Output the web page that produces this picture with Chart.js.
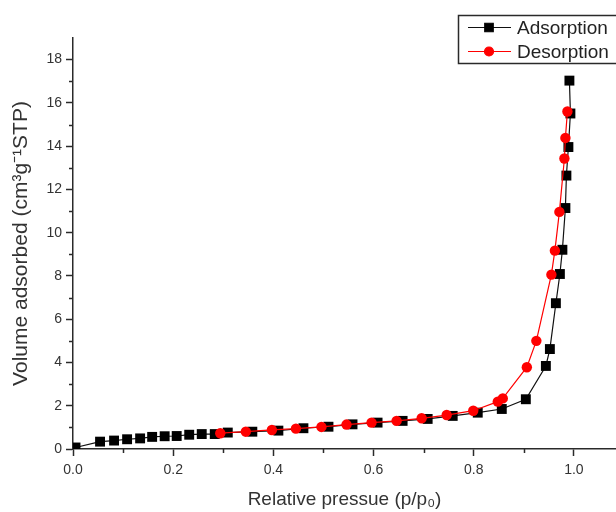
<!DOCTYPE html>
<html>
<head>
<meta charset="utf-8">
<script src="https://cdn.jsdelivr.net/npm/chart.js@4/dist/chart.umd.min.js"></script>
<style>
  html, body { margin: 0; padding: 0; background: #fff; }
  #wrap { width: 616px; height: 512px; position: relative; }
</style>
</head>
<body>
<div id="wrap"><canvas id="c" width="616" height="512"></canvas></div>
<script>
// ---- Data ----
const adsorptionX = [0.005, 0.054, 0.082, 0.108, 0.134, 0.158, 0.183, 0.207, 0.232, 0.257, 0.283, 0.309, 0.358, 0.41, 0.46, 0.51, 0.558, 0.608, 0.658, 0.708, 0.758, 0.808, 0.856, 0.904, 0.944, 0.952, 0.964, 0.972, 0.977, 0.983, 0.985, 0.989, 0.993, 0.991];
const adsorptionY = [0.07, 0.34, 0.39, 0.45, 0.49, 0.56, 0.59, 0.60, 0.66, 0.69, 0.69, 0.76, 0.80, 0.85, 0.96, 1.03, 1.14, 1.22, 1.30, 1.39, 1.53, 1.68, 1.85, 2.30, 3.84, 4.62, 6.74, 8.09, 9.21, 11.14, 12.64, 13.96, 15.51, 17.03];
const desorptionX = [0.987, 0.983, 0.981, 0.971, 0.962, 0.955, 0.925, 0.906, 0.858, 0.848, 0.799, 0.746, 0.696, 0.646, 0.596, 0.546, 0.496, 0.445, 0.397, 0.345, 0.294];
const desorptionY = [15.60, 14.38, 13.43, 10.96, 9.17, 8.06, 5.00, 3.78, 2.34, 2.19, 1.77, 1.57, 1.42, 1.30, 1.22, 1.13, 1.02, 0.94, 0.88, 0.80, 0.73];
const seriesLabels = ['Adsorption', 'Desorption'];
const xMajorTicks = [0, 0.2, 0.4, 0.6, 0.8, 1.0];
const xMinorTicks = [0.1, 0.3, 0.5, 0.7, 0.9];
const yMajorTicks = [0, 2, 4, 6, 8, 10, 12, 14, 16, 18];
const yMinorTicks = [1, 3, 5, 7, 9, 11, 13, 15, 17];
const xTitle = 'Relative pressue (p/p\u2080)';
const yTitle = 'Volume adsorbed (cm\u00B3g\u207B\u00B9STP)';

const toPoints = (xs, ys) => xs.map((x, i) => ({ x: x, y: ys[i] }));

const AXIS = '#2a2a2a';
const TEXT = '#333333';
const FONT = '"Liberation Sans", Arial, sans-serif';

const minorTicksPlugin = {
  id: 'minorTicks',
  afterDraw(chart) {
    const ctx = chart.ctx;
    const xs = chart.scales.x, ys = chart.scales.y;
    ctx.save();
    ctx.strokeStyle = AXIS;
    ctx.lineWidth = 1.5;
    ctx.beginPath();
    xMinorTicks.forEach(v => {
      const px = Math.round(xs.getPixelForValue(v)) + 0.5;
      ctx.moveTo(px, ys.bottom);
      ctx.lineTo(px, ys.bottom + 4);
    });
    yMinorTicks.forEach(v => {
      const py = Math.round(ys.getPixelForValue(v)) + 0.5;
      ctx.moveTo(xs.left, py);
      ctx.lineTo(xs.left - 4, py);
    });
    ctx.stroke();
    ctx.restore();
  }
};

const boxLegendPlugin = {
  id: 'boxLegend',
  afterDraw(chart) {
    const ctx = chart.ctx;
    ctx.save();
    ctx.strokeStyle = AXIS;
    ctx.lineWidth = 1.5;
    ctx.strokeRect(458.5, 15.5, 200, 48);
    const rows = [27.5, 51.5];
    chart.data.datasets.forEach((ds, i) => {
      const y = rows[i];
      ctx.strokeStyle = ds.borderColor;
      ctx.lineWidth = 1.2;
      ctx.beginPath();
      ctx.moveTo(468, y);
      ctx.lineTo(511, y);
      ctx.stroke();
      ctx.fillStyle = ds.pointBackgroundColor;
      ctx.strokeStyle = ds.pointBorderColor;
      Chart.helpers.drawPoint(ctx, { pointStyle: ds.pointStyle, radius: ds.legendRadius, rotation: 0, borderWidth: 1 }, 489, y);
      ctx.fillStyle = '#222';
      ctx.font = '19px ' + FONT;
      ctx.textBaseline = 'middle';
      ctx.textAlign = 'left';
      ctx.fillText(ds.label, 517, y + 1);
    });
    ctx.restore();
  }
};

new Chart(document.getElementById('c'), {
  type: 'scatter',
  data: {
    datasets: [
      {
        label: seriesLabels[0],
        data: toPoints(adsorptionX, adsorptionY),
        showLine: true,
        borderColor: '#111111',
        borderWidth: 1.2,
        pointStyle: 'rect',
        pointRadius: 7,
        legendRadius: 6,
        pointBackgroundColor: '#000000',
        pointBorderColor: '#000000',
        pointBorderWidth: 0,
        tension: 0,
        order: 2
      },
      {
        label: seriesLabels[1],
        data: toPoints(desorptionX, desorptionY),
        showLine: true,
        borderColor: '#ff0000',
        borderWidth: 1.2,
        pointStyle: 'circle',
        pointRadius: 5.2,
        legendRadius: 4.5,
        pointBackgroundColor: '#ff0000',
        pointBorderColor: '#ff0000',
        pointBorderWidth: 0,
        tension: 0,
        order: 1
      }
    ]
  },
  options: {
    responsive: false,
    animation: false,
    devicePixelRatio: 1,
    layout: { autoPadding: false, padding: { top: 38, right: 0, left: 0, bottom: 0 } },
    plugins: {
      legend: { display: false },
      tooltip: { enabled: false }
    },
    scales: {
      x: {
        type: 'linear',
        min: 0,
        max: 1.084,
        afterBuildTicks(scale) { scale.ticks = xMajorTicks.map(v => ({ value: v })); },
        afterFit(scale) { scale.height = 63; scale.paddingLeft = 0; scale.paddingRight = 0; },
        border: { display: true, color: AXIS, width: 1.5 },
        grid: { display: true, drawOnChartArea: false, drawTicks: true, tickLength: 7, tickColor: AXIS, tickWidth: 1.5 },
        ticks: {
          color: TEXT,
          font: { family: FONT, size: 14 },
          padding: 6,
          maxRotation: 0,
          autoSkip: false,
          callback: v => Number(v).toFixed(1)
        },
        title: {
          display: true,
          text: xTitle,
          color: TEXT,
          font: { family: FONT, size: 19 },
          padding: { top: 0, bottom: 1 }
        }
      },
      y: {
        type: 'linear',
        min: 0,
        max: 19,
        afterBuildTicks(scale) { scale.ticks = yMajorTicks.map(v => ({ value: v })); },
        afterFit(scale) { scale.width = 73; scale.paddingTop = 0; scale.paddingBottom = 0; },
        border: { display: true, color: AXIS, width: 1.5 },
        grid: { display: true, drawOnChartArea: false, drawTicks: true, tickLength: 7, tickColor: AXIS, tickWidth: 1.5 },
        ticks: {
          color: TEXT,
          font: { family: FONT, size: 14 },
          padding: 4,
          autoSkip: false,
          callback: v => String(v)
        },
        title: {
          display: true,
          text: yTitle,
          color: TEXT,
          font: { family: FONT, size: 21 },
          padding: { top: 9, bottom: 0 }
        }
      }
    }
  },
  plugins: [minorTicksPlugin, boxLegendPlugin]
});
</script>
</body>
</html>
